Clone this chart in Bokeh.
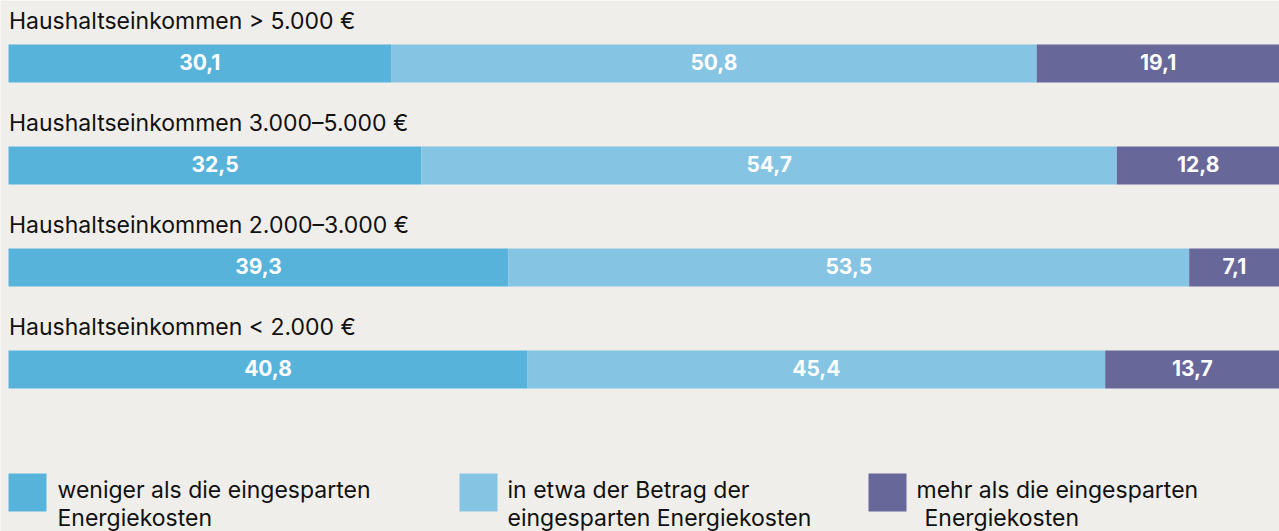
from bokeh.plotting import figure
from bokeh.models import Range1d, ColumnDataSource
from bokeh.core.properties import value
from bokeh.embed import file_html
from bokeh.resources import INLINE

# ---- data ----
groups = [
    "Haushaltseinkommen > 5.000 €",
    "Haushaltseinkommen 3.000\u20135.000 €",
    "Haushaltseinkommen 2.000\u20133.000 €",
    "Haushaltseinkommen < 2.000 €",
]
weniger = [30.1, 32.5, 39.3, 40.8]
etwa = [50.8, 54.7, 53.5, 45.4]
mehr = [19.1, 12.8, 7.1, 13.7]
series_labels = [
    ["weniger als die eingesparten", "Energiekosten"],
    ["in etwa der Betrag der", "eingesparten Energiekosten"],
    ["mehr als die eingesparten", " Energiekosten"],
]
colors = ["#58b3db", "#86c4e4", "#67679a"]
BG = "#f0eeea"
FONT = "Inter"
FS = "23px"

W, H = 1279, 531
LEFT = 8
PLOT_W = W - LEFT

def px(x):
    return (x - LEFT) * 100.0 / PLOT_W

p = figure(width=W, height=H, output_backend="svg", toolbar_location=None,
           x_range=Range1d(px(0), 100), y_range=Range1d(H, 0),
           min_border=0, min_border_left=0, min_border_right=0,
           min_border_top=0, min_border_bottom=0)
p.axis.visible = False
p.grid.visible = False
p.outline_line_color = None
p.background_fill_color = BG
p.border_fill_color = BG

row_y = [63 + i * 102 for i in range(len(groups))]
label_y = [y - 43 for y in row_y]

series = [weniger, etwa, mehr]
totals = [sum(v) for v in zip(*series)]
lefts = [0.0] * len(groups)
for s, col in zip(series, colors):
    norm = [v / t * 100 for v, t in zip(s, totals)]
    rights = [l + n for l, n in zip(lefts, norm)]
    src = ColumnDataSource(dict(y=[y - 2 for y in row_y], yb=row_y, left=lefts, right=rights,
                                mid=[(l + r) / 2 for l, r in zip(lefts, rights)],
                                lab=[f"{v:.1f}".replace(".", ",") for v in s]))
    p.hbar(y="yb", left="left", right="right", height=38, color=col, line_color=None, source=src)
    p.text(x="mid", y="y", text="lab", source=src, text_color="white",
           text_font=value(FONT), text_font_size="21px", text_font_style="bold",
           text_align="center", text_baseline="middle")
    lefts = rights

p.text(x=[px(8.5)] * len(groups), y=label_y, text=groups, text_color="#111111",
       text_font=value(FONT), text_font_size=FS, text_baseline="alphabetic",
       text_align="left")

# legend
leg_sq = [8, 459, 868]
leg_tx = [57, 507, 916]
for sx, tx, lines, col in zip(leg_sq, leg_tx, series_labels, colors):
    p.rect(x=[px(sx + 19)], y=[492], width=38, height=38, width_units="screen",
           height_units="screen", color=col, line_color=None)
    xs = [px(tx + (8 if ln.startswith(" ") else 0)) for ln in lines]
    p.text(x=xs, y=[489, 517], text=[ln.strip() for ln in lines], text_color="#111111",
           text_font=value(FONT), text_font_size=FS, text_baseline="alphabetic",
           text_align="left")

html = file_html(p, INLINE)
html = html.replace("<body>", f'<body style="background:{BG};">', 1)
open("out.html", "w").write(html)
